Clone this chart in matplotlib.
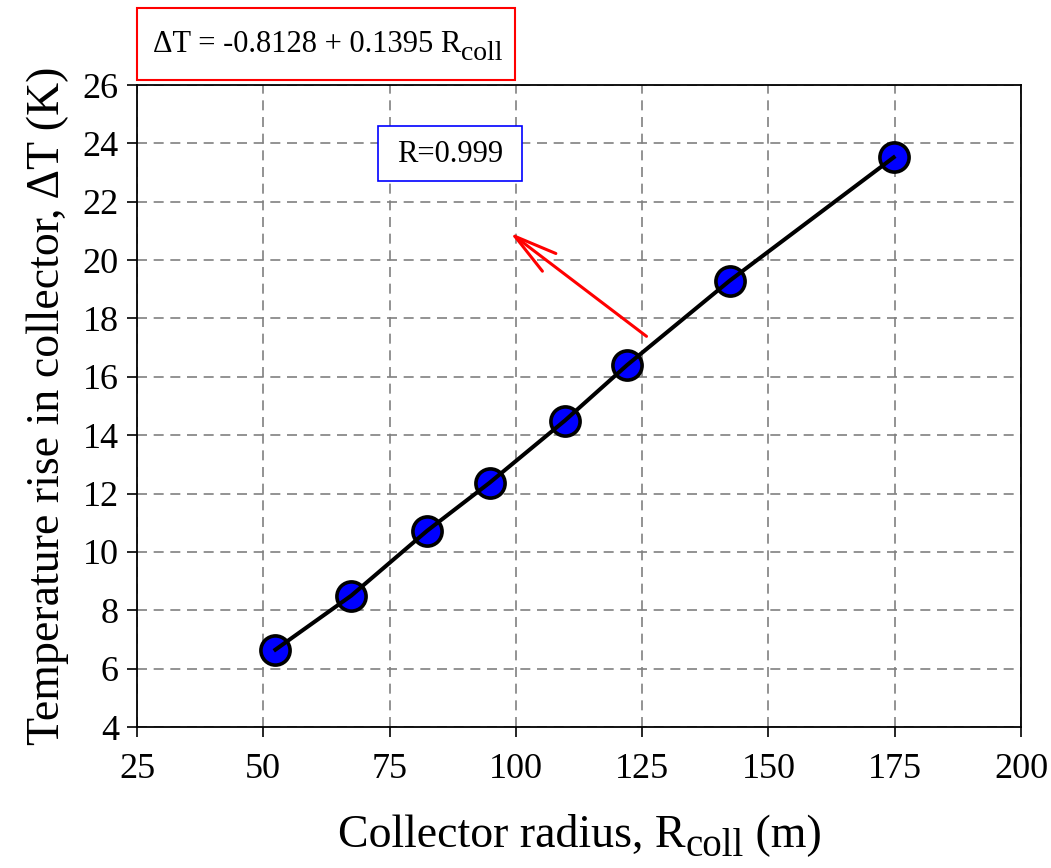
import numpy as np
import matplotlib
matplotlib.use("Agg")
import matplotlib.pyplot as plt
from matplotlib.patches import Rectangle

# collector radius (m) and temperature rise (K)
r_coll = [52.4, 67.4, 82.4, 94.8, 109.7, 122.0, 142.3, 174.8]
delta_t = [6.65, 8.50, 10.72, 12.37, 14.50, 16.40, 19.29, 23.52]

x_ticks = [25, 50, 75, 100, 125, 150, 175, 200]
y_ticks = [4, 6, 8, 10, 12, 14, 16, 18, 20, 22, 24, 26]

fit_parts = ["ΔT = -0.8128 + 0.1395 R", "coll"]
xlabel_parts = ["Collector radius, R", "coll", " (m)"]
r_text = "R=0.999"

plt.rcParams['font.family'] = ['Liberation Serif', 'DejaVu Serif']

W, H = 1051, 868
fig = plt.figure(figsize=(W / 100, H / 100), dpi=100)
ax = fig.add_axes([137 / W, 1 - 727 / H, (1021 - 137) / W, (727 - 85) / H])

ax.plot(r_coll, delta_t, 'o', ms=21, mfc='#0000FF', mec='black', mew=2.6, zorder=3)
ax.plot(r_coll, delta_t, '-', color='black', lw=2.9, zorder=4)

ax.set_xlim(25, 200)
ax.set_ylim(4, 26)
ax.set_xticks(x_ticks)
ax.set_yticks(y_ticks)
ax.tick_params(direction='out', length=7, width=1.2, labelsize=26, pad=6)
ax.tick_params(axis='x', pad=12)
for s in ax.spines.values():
    s.set_linewidth(1.3)

ax.grid(True, color='#808080', linestyle=(0, (6, 4)), linewidth=1.2)
ax.set_axisbelow(True)

ax.set_ylabel("Temperature rise in collector, ΔT (K)", fontsize=33, labelpad=10)

# red arrow pointing to the correlation coefficient box
ax.annotate("", xy=(98.4, 21.0), xytext=(126.3, 17.33),
            arrowprops=dict(arrowstyle='->,head_length=3.1,head_width=0.8',
                            mutation_scale=10, color='red', lw=2.2))


def chain_text(x_px, y_px, parts, sizes, drops):
    # lay text pieces left to right, each one starting where the last ended
    renderer = fig.canvas.get_renderer()
    x = x_px
    for p, fs, d in zip(parts, sizes, drops):
        t = fig.text(x / W, 1 - (y_px + d) / H, p, fontsize=fs,
                     ha='left', va='baseline', zorder=6)
        x = t.get_window_extent(renderer).x1
    return x


# fit equation box
fig.patches.append(Rectangle((137 / W, 1 - 80 / H), (515 - 137) / W, (80 - 8) / H,
                             transform=fig.transFigure, fill=False,
                             edgecolor='red', lw=1.5))
chain_text(153, 52, fit_parts, [22, 20], [0, 8])

# correlation box
fig.patches.append(Rectangle((378 / W, 1 - 181 / H), (522 - 378) / W, (181 - 126) / H,
                             transform=fig.transFigure, fill=True, facecolor='white',
                             edgecolor='blue', lw=1.2, zorder=5))
fig.text(450 / W, 1 - 155 / H, r_text, fontsize=22, ha='center', va='center', zorder=6)

# x axis title with a full-height subscript
chain_text(338, 847, xlabel_parts, [33, 28, 33], [0, 9, 0])

fig.savefig("out.png", dpi=100)
